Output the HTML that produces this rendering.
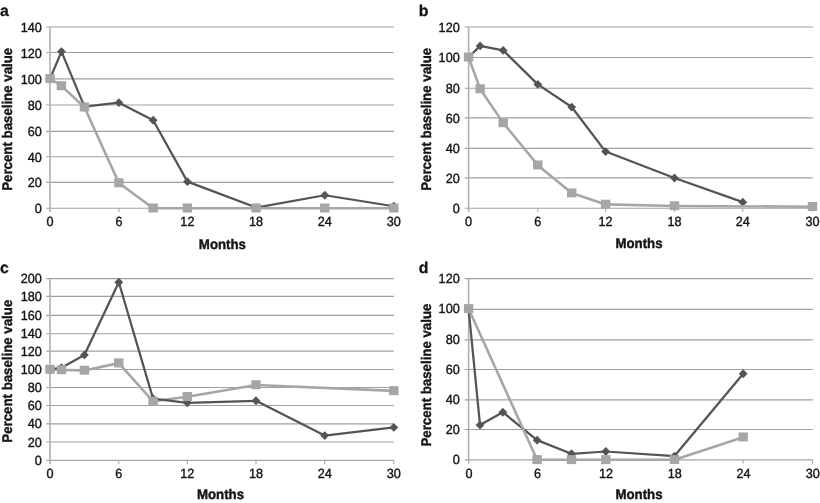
<!DOCTYPE html>
<html lang="en">
<head>
<meta charset="utf-8">
<title>Percent baseline value over months</title>
<style>
html,body{margin:0;padding:0;background:#fff;}
body{width:820px;height:503px;overflow:hidden;}
svg{display:block;}
text{font-family:"Liberation Sans",Arial,Helvetica,sans-serif;fill:#151515;text-rendering:geometricPrecision;}
.t{font-size:13.6px;stroke:#151515;stroke-width:0.4px;}
.b{font-size:13.4px;font-weight:bold;stroke:#151515;stroke-width:0.4px;}
.p{font-size:15.8px;font-weight:bold;stroke:#1a1a1a;stroke-width:0.3px;}
</style>
</head>
<body>
<svg width="820" height="503" viewBox="0 0 820 503">
<rect x="0" y="0" width="820" height="503" fill="#ffffff"/>

<g>
<line x1="46.2" y1="208.2" x2="393.8" y2="208.2" stroke="#a4a4a4" stroke-width="1.15"/>
<text class="t" transform="translate(41.9 213.2) scale(0.93 0.98)" text-anchor="end">0</text>
<line x1="46.2" y1="182.4" x2="393.8" y2="182.4" stroke="#a0a0a0" stroke-width="1.15"/>
<text class="t" transform="translate(41.9 187.4) scale(0.93 0.98)" text-anchor="end">20</text>
<line x1="46.2" y1="156.7" x2="393.8" y2="156.7" stroke="#a0a0a0" stroke-width="1.15"/>
<text class="t" transform="translate(41.9 161.7) scale(0.93 0.98)" text-anchor="end">40</text>
<line x1="46.2" y1="131.3" x2="393.8" y2="131.3" stroke="#a0a0a0" stroke-width="1.15"/>
<text class="t" transform="translate(41.9 136.3) scale(0.93 0.98)" text-anchor="end">60</text>
<line x1="46.2" y1="105" x2="393.8" y2="105" stroke="#a0a0a0" stroke-width="1.15"/>
<text class="t" transform="translate(41.9 110) scale(0.93 0.98)" text-anchor="end">80</text>
<line x1="46.2" y1="78.9" x2="393.8" y2="78.9" stroke="#a0a0a0" stroke-width="1.15"/>
<text class="t" transform="translate(41.9 83.9) scale(0.93 0.98)" text-anchor="end">100</text>
<line x1="46.2" y1="52.5" x2="393.8" y2="52.5" stroke="#a0a0a0" stroke-width="1.15"/>
<text class="t" transform="translate(41.9 57.5) scale(0.93 0.98)" text-anchor="end">120</text>
<line x1="46.2" y1="27" x2="393.8" y2="27" stroke="#a0a0a0" stroke-width="1.15"/>
<text class="t" transform="translate(41.9 32) scale(0.93 0.98)" text-anchor="end">140</text>
<line x1="50" y1="27" x2="50" y2="212" stroke="#b0b0b0" stroke-width="1.6"/>
<text class="t" transform="translate(50 226.3) scale(0.93 0.98)" text-anchor="middle">0</text>
<line x1="118.9" y1="208.2" x2="118.9" y2="212" stroke="#a4a4a4" stroke-width="1"/>
<text class="t" transform="translate(118.9 226.3) scale(0.93 0.98)" text-anchor="middle">6</text>
<line x1="187.4" y1="208.2" x2="187.4" y2="212" stroke="#a4a4a4" stroke-width="1"/>
<text class="t" transform="translate(187.4 226.3) scale(0.93 0.98)" text-anchor="middle">12</text>
<line x1="256.1" y1="208.2" x2="256.1" y2="212" stroke="#a4a4a4" stroke-width="1"/>
<text class="t" transform="translate(256.1 226.3) scale(0.93 0.98)" text-anchor="middle">18</text>
<line x1="324.8" y1="208.2" x2="324.8" y2="212" stroke="#a4a4a4" stroke-width="1"/>
<text class="t" transform="translate(324.8 226.3) scale(0.93 0.98)" text-anchor="middle">24</text>
<line x1="393.8" y1="208.2" x2="393.8" y2="212" stroke="#a4a4a4" stroke-width="1"/>
<text class="t" transform="translate(393.8 226.3) scale(0.93 0.98)" text-anchor="middle">30</text>
<text class="b" transform="translate(222.4 248.5) scale(0.99 1.04)" text-anchor="middle">Months</text>
<text class="b" transform="translate(11.8 119.3) rotate(-90) scale(0.99 1.04)" text-anchor="middle">Percent baseline value</text>
<text class="p" x="0" y="15.6">a</text>
<polyline points="50,78.77 61.48,51.59 84.45,106.6 118.9,102.72 153.15,120.19 187.4,181.67 256.1,207.55 324.8,195.26 393.8,206.26" fill="none" stroke="#545454" stroke-width="2.25" stroke-linejoin="round"/>
<polygon points="50,74.37 54.4,78.77 50,83.17 45.6,78.77" fill="#545454"/>
<polygon points="61.48,47.19 65.88,51.59 61.48,55.99 57.08,51.59" fill="#545454"/>
<polygon points="84.45,102.2 88.85,106.6 84.45,111 80.05,106.6" fill="#545454"/>
<polygon points="118.9,98.32 123.3,102.72 118.9,107.12 114.5,102.72" fill="#545454"/>
<polygon points="153.15,115.79 157.55,120.19 153.15,124.59 148.75,120.19" fill="#545454"/>
<polygon points="187.4,177.27 191.8,181.67 187.4,186.07 183,181.67" fill="#545454"/>
<polygon points="256.1,203.15 260.5,207.55 256.1,211.95 251.7,207.55" fill="#545454"/>
<polygon points="324.8,190.86 329.2,195.26 324.8,199.66 320.4,195.26" fill="#545454"/>
<polygon points="393.8,201.86 398.2,206.26 393.8,210.66 389.4,206.26" fill="#545454"/>
<polyline points="50,78.77 61.48,85.89 84.45,107.25 118.9,182.96 153.15,208.2 187.4,208.2 256.1,208.2 324.8,208.2 393.8,208.2" fill="none" stroke="#a6a6a6" stroke-width="2.6" stroke-linejoin="round"/>
<rect x="45.3" y="74.07" width="9.4" height="9" fill="#a6a6a6"/>
<rect x="56.78" y="81.19" width="9.4" height="9" fill="#a6a6a6"/>
<rect x="79.75" y="102.55" width="9.4" height="9" fill="#a6a6a6"/>
<rect x="114.2" y="178.26" width="9.4" height="9" fill="#a6a6a6"/>
<rect x="148.45" y="203.5" width="9.4" height="9" fill="#a6a6a6"/>
<rect x="182.7" y="203.5" width="9.4" height="9" fill="#a6a6a6"/>
<rect x="251.4" y="203.5" width="9.4" height="9" fill="#a6a6a6"/>
<rect x="320.1" y="203.5" width="9.4" height="9" fill="#a6a6a6"/>
<rect x="389.1" y="203.5" width="9.4" height="9" fill="#a6a6a6"/>
</g>
<g>
<line x1="464.8" y1="208.2" x2="812.9" y2="208.2" stroke="#a4a4a4" stroke-width="1.15"/>
<text class="t" transform="translate(459.7 212.8) scale(0.93 0.98)" text-anchor="end">0</text>
<line x1="464.8" y1="177.9" x2="812.9" y2="177.9" stroke="#a0a0a0" stroke-width="1.15"/>
<text class="t" transform="translate(459.7 182.5) scale(0.93 0.98)" text-anchor="end">20</text>
<line x1="464.8" y1="148.3" x2="812.9" y2="148.3" stroke="#a0a0a0" stroke-width="1.15"/>
<text class="t" transform="translate(459.7 152.9) scale(0.93 0.98)" text-anchor="end">40</text>
<line x1="464.8" y1="117.9" x2="812.9" y2="117.9" stroke="#a0a0a0" stroke-width="1.15"/>
<text class="t" transform="translate(459.7 122.5) scale(0.93 0.98)" text-anchor="end">60</text>
<line x1="464.8" y1="88.2" x2="812.9" y2="88.2" stroke="#a0a0a0" stroke-width="1.15"/>
<text class="t" transform="translate(459.7 92.8) scale(0.93 0.98)" text-anchor="end">80</text>
<line x1="464.8" y1="57.5" x2="812.9" y2="57.5" stroke="#a0a0a0" stroke-width="1.15"/>
<text class="t" transform="translate(459.7 62.1) scale(0.93 0.98)" text-anchor="end">100</text>
<line x1="464.8" y1="27" x2="812.9" y2="27" stroke="#a0a0a0" stroke-width="1.15"/>
<text class="t" transform="translate(459.7 31.6) scale(0.93 0.98)" text-anchor="end">120</text>
<line x1="468.6" y1="27" x2="468.6" y2="212" stroke="#b0b0b0" stroke-width="1.6"/>
<text class="t" transform="translate(468.6 225.7) scale(0.93 0.98)" text-anchor="middle">0</text>
<line x1="537.8" y1="208.2" x2="537.8" y2="212" stroke="#a4a4a4" stroke-width="1"/>
<text class="t" transform="translate(537.8 225.7) scale(0.93 0.98)" text-anchor="middle">6</text>
<line x1="605.6" y1="208.2" x2="605.6" y2="212" stroke="#a4a4a4" stroke-width="1"/>
<text class="t" transform="translate(605.6 225.7) scale(0.93 0.98)" text-anchor="middle">12</text>
<line x1="674.5" y1="208.2" x2="674.5" y2="212" stroke="#a4a4a4" stroke-width="1"/>
<text class="t" transform="translate(674.5 225.7) scale(0.93 0.98)" text-anchor="middle">18</text>
<line x1="742.8" y1="208.2" x2="742.8" y2="212" stroke="#a4a4a4" stroke-width="1"/>
<text class="t" transform="translate(742.8 225.7) scale(0.93 0.98)" text-anchor="middle">24</text>
<line x1="812.5" y1="208.2" x2="812.5" y2="212" stroke="#a4a4a4" stroke-width="1"/>
<text class="t" transform="translate(812.5 225.7) scale(0.93 0.98)" text-anchor="middle">30</text>
<text class="b" transform="translate(638.95 248) scale(0.99 1.04)" text-anchor="middle">Months</text>
<text class="b" transform="translate(431.2 119.3) rotate(-90) scale(0.99 1.04)" text-anchor="middle">Percent baseline value</text>
<text class="p" x="418.8" y="15.6">b</text>
<polyline points="468.6,57.2 480.13,45.88 503.2,50.41 537.8,84.38 571.7,107.03 605.6,151.57 674.5,178 742.8,202.16" fill="none" stroke="#545454" stroke-width="2.25" stroke-linejoin="round"/>
<polygon points="468.6,52.8 473,57.2 468.6,61.6 464.2,57.2" fill="#545454"/>
<polygon points="480.13,41.48 484.53,45.88 480.13,50.27 475.73,45.88" fill="#545454"/>
<polygon points="503.2,46.01 507.6,50.41 503.2,54.8 498.8,50.41" fill="#545454"/>
<polygon points="537.8,79.98 542.2,84.38 537.8,88.78 533.4,84.38" fill="#545454"/>
<polygon points="571.7,102.63 576.1,107.03 571.7,111.43 567.3,107.03" fill="#545454"/>
<polygon points="605.6,147.17 610,151.57 605.6,155.97 601.2,151.57" fill="#545454"/>
<polygon points="674.5,173.6 678.9,178 674.5,182.4 670.1,178" fill="#545454"/>
<polygon points="742.8,197.76 747.2,202.16 742.8,206.56 738.4,202.16" fill="#545454"/>
<polyline points="468.6,57.2 480.13,88.91 503.2,122.88 537.8,165.16 571.7,193.1 605.6,204.42 674.5,205.94 812.5,206.69" fill="none" stroke="#a6a6a6" stroke-width="2.6" stroke-linejoin="round"/>
<rect x="463.9" y="52.5" width="9.4" height="9" fill="#a6a6a6"/>
<rect x="475.43" y="84.21" width="9.4" height="9" fill="#a6a6a6"/>
<rect x="498.5" y="118.18" width="9.4" height="9" fill="#a6a6a6"/>
<rect x="533.1" y="160.47" width="9.4" height="9" fill="#a6a6a6"/>
<rect x="567" y="188.4" width="9.4" height="9" fill="#a6a6a6"/>
<rect x="600.9" y="199.72" width="9.4" height="9" fill="#a6a6a6"/>
<rect x="669.8" y="201.24" width="9.4" height="9" fill="#a6a6a6"/>
<rect x="807.8" y="201.99" width="9.4" height="9" fill="#a6a6a6"/>
</g>
<g>
<line x1="46.2" y1="460.4" x2="393.8" y2="460.4" stroke="#a4a4a4" stroke-width="1.15"/>
<text class="t" transform="translate(41.9 464.9) scale(0.93 0.98)" text-anchor="end">0</text>
<line x1="46.2" y1="442" x2="393.8" y2="442" stroke="#a0a0a0" stroke-width="1.15"/>
<text class="t" transform="translate(41.9 446.5) scale(0.93 0.98)" text-anchor="end">20</text>
<line x1="46.2" y1="423.8" x2="393.8" y2="423.8" stroke="#a0a0a0" stroke-width="1.15"/>
<text class="t" transform="translate(41.9 428.3) scale(0.93 0.98)" text-anchor="end">40</text>
<line x1="46.2" y1="405.5" x2="393.8" y2="405.5" stroke="#a0a0a0" stroke-width="1.15"/>
<text class="t" transform="translate(41.9 410) scale(0.93 0.98)" text-anchor="end">60</text>
<line x1="46.2" y1="387.5" x2="393.8" y2="387.5" stroke="#a0a0a0" stroke-width="1.15"/>
<text class="t" transform="translate(41.9 392) scale(0.93 0.98)" text-anchor="end">80</text>
<line x1="46.2" y1="369.5" x2="393.8" y2="369.5" stroke="#a0a0a0" stroke-width="1.15"/>
<text class="t" transform="translate(41.9 374) scale(0.93 0.98)" text-anchor="end">100</text>
<line x1="46.2" y1="351.1" x2="393.8" y2="351.1" stroke="#a0a0a0" stroke-width="1.15"/>
<text class="t" transform="translate(41.9 355.6) scale(0.93 0.98)" text-anchor="end">120</text>
<line x1="46.2" y1="333.7" x2="393.8" y2="333.7" stroke="#a0a0a0" stroke-width="1.15"/>
<text class="t" transform="translate(41.9 338.2) scale(0.93 0.98)" text-anchor="end">140</text>
<line x1="46.2" y1="315.4" x2="393.8" y2="315.4" stroke="#a0a0a0" stroke-width="1.15"/>
<text class="t" transform="translate(41.9 319.9) scale(0.93 0.98)" text-anchor="end">160</text>
<line x1="46.2" y1="296.3" x2="393.8" y2="296.3" stroke="#a0a0a0" stroke-width="1.15"/>
<text class="t" transform="translate(41.9 300.8) scale(0.93 0.98)" text-anchor="end">180</text>
<line x1="46.2" y1="278.6" x2="393.8" y2="278.6" stroke="#a0a0a0" stroke-width="1.15"/>
<text class="t" transform="translate(41.9 283.1) scale(0.93 0.98)" text-anchor="end">200</text>
<line x1="50" y1="278.6" x2="50" y2="464.2" stroke="#b0b0b0" stroke-width="1.6"/>
<text class="t" transform="translate(50 477.95) scale(0.93 0.98)" text-anchor="middle">0</text>
<line x1="118.8" y1="460.4" x2="118.8" y2="464.2" stroke="#a4a4a4" stroke-width="1"/>
<text class="t" transform="translate(118.8 477.95) scale(0.93 0.98)" text-anchor="middle">6</text>
<line x1="187.3" y1="460.4" x2="187.3" y2="464.2" stroke="#a4a4a4" stroke-width="1"/>
<text class="t" transform="translate(187.3 477.95) scale(0.93 0.98)" text-anchor="middle">12</text>
<line x1="256" y1="460.4" x2="256" y2="464.2" stroke="#a4a4a4" stroke-width="1"/>
<text class="t" transform="translate(256 477.95) scale(0.93 0.98)" text-anchor="middle">18</text>
<line x1="324.7" y1="460.4" x2="324.7" y2="464.2" stroke="#a4a4a4" stroke-width="1"/>
<text class="t" transform="translate(324.7 477.95) scale(0.93 0.98)" text-anchor="middle">24</text>
<line x1="393.8" y1="460.4" x2="393.8" y2="464.2" stroke="#a4a4a4" stroke-width="1"/>
<text class="t" transform="translate(393.8 477.95) scale(0.93 0.98)" text-anchor="middle">30</text>
<text class="b" transform="translate(220.5 499.4) scale(0.99 1.04)" text-anchor="middle">Months</text>
<text class="b" transform="translate(11.8 371.2) rotate(-90) scale(0.99 1.04)" text-anchor="middle">Percent baseline value</text>
<text class="p" x="0" y="272.5">c</text>
<polyline points="50,369.5 61.47,369.95 84.4,370.41 118.8,363.14 153.05,401.31 187.3,396.77 256,384.95 393.8,390.86" fill="none" stroke="#a6a6a6" stroke-width="2.6" stroke-linejoin="round"/>
<polyline points="50,369.5 61.47,367.68 84.4,354.96 118.8,282.24 153.05,398.59 187.3,402.86 256,400.77 324.7,435.58 393.8,427.4" fill="none" stroke="#545454" stroke-width="2.25" stroke-linejoin="round"/>
<polygon points="50,365.1 54.4,369.5 50,373.9 45.6,369.5" fill="#545454"/>
<polygon points="61.47,363.28 65.87,367.68 61.47,372.08 57.07,367.68" fill="#545454"/>
<polygon points="84.4,350.56 88.8,354.96 84.4,359.36 80,354.96" fill="#545454"/>
<polygon points="118.8,277.84 123.2,282.24 118.8,286.64 114.4,282.24" fill="#545454"/>
<polygon points="153.05,394.19 157.45,398.59 153.05,402.99 148.65,398.59" fill="#545454"/>
<polygon points="187.3,398.46 191.7,402.86 187.3,407.26 182.9,402.86" fill="#545454"/>
<polygon points="256,396.37 260.4,400.77 256,405.17 251.6,400.77" fill="#545454"/>
<polygon points="324.7,431.18 329.1,435.58 324.7,439.98 320.3,435.58" fill="#545454"/>
<polygon points="393.8,423 398.2,427.4 393.8,431.8 389.4,427.4" fill="#545454"/>
<rect x="45.3" y="364.8" width="9.4" height="9" fill="#a6a6a6"/>
<rect x="56.77" y="365.25" width="9.4" height="9" fill="#a6a6a6"/>
<rect x="79.7" y="365.71" width="9.4" height="9" fill="#a6a6a6"/>
<rect x="114.1" y="358.44" width="9.4" height="9" fill="#a6a6a6"/>
<rect x="148.35" y="396.62" width="9.4" height="9" fill="#a6a6a6"/>
<rect x="182.6" y="392.07" width="9.4" height="9" fill="#a6a6a6"/>
<rect x="251.3" y="380.25" width="9.4" height="9" fill="#a6a6a6"/>
<rect x="389.1" y="386.16" width="9.4" height="9" fill="#a6a6a6"/>
</g>
<g>
<line x1="464.8" y1="459.8" x2="812.9" y2="459.8" stroke="#a4a4a4" stroke-width="1.15"/>
<text class="t" transform="translate(459.7 463.8) scale(0.93 0.98)" text-anchor="end">0</text>
<line x1="464.8" y1="429.5" x2="812.9" y2="429.5" stroke="#a0a0a0" stroke-width="1.15"/>
<text class="t" transform="translate(459.7 433.5) scale(0.93 0.98)" text-anchor="end">20</text>
<line x1="464.8" y1="399.9" x2="812.9" y2="399.9" stroke="#a0a0a0" stroke-width="1.15"/>
<text class="t" transform="translate(459.7 403.9) scale(0.93 0.98)" text-anchor="end">40</text>
<line x1="464.8" y1="369.5" x2="812.9" y2="369.5" stroke="#a0a0a0" stroke-width="1.15"/>
<text class="t" transform="translate(459.7 373.5) scale(0.93 0.98)" text-anchor="end">60</text>
<line x1="464.8" y1="339.8" x2="812.9" y2="339.8" stroke="#a0a0a0" stroke-width="1.15"/>
<text class="t" transform="translate(459.7 343.8) scale(0.93 0.98)" text-anchor="end">80</text>
<line x1="464.8" y1="309.3" x2="812.9" y2="309.3" stroke="#a0a0a0" stroke-width="1.15"/>
<text class="t" transform="translate(459.7 313.3) scale(0.93 0.98)" text-anchor="end">100</text>
<line x1="464.8" y1="278.6" x2="812.9" y2="278.6" stroke="#a0a0a0" stroke-width="1.15"/>
<text class="t" transform="translate(459.7 282.6) scale(0.93 0.98)" text-anchor="end">120</text>
<line x1="468.6" y1="278.6" x2="468.6" y2="463.6" stroke="#b0b0b0" stroke-width="1.6"/>
<text class="t" transform="translate(468.9 478.2) scale(0.93 0.98)" text-anchor="middle">0</text>
<line x1="537.1" y1="459.8" x2="537.1" y2="463.6" stroke="#a4a4a4" stroke-width="1"/>
<text class="t" transform="translate(537.4 478.2) scale(0.93 0.98)" text-anchor="middle">6</text>
<line x1="605.8" y1="459.8" x2="605.8" y2="463.6" stroke="#a4a4a4" stroke-width="1"/>
<text class="t" transform="translate(606.1 478.2) scale(0.93 0.98)" text-anchor="middle">12</text>
<line x1="674.5" y1="459.8" x2="674.5" y2="463.6" stroke="#a4a4a4" stroke-width="1"/>
<text class="t" transform="translate(674.8 478.2) scale(0.93 0.98)" text-anchor="middle">18</text>
<line x1="743.2" y1="459.8" x2="743.2" y2="463.6" stroke="#a4a4a4" stroke-width="1"/>
<text class="t" transform="translate(743.5 478.2) scale(0.93 0.98)" text-anchor="middle">24</text>
<line x1="812.5" y1="459.8" x2="812.5" y2="463.6" stroke="#a4a4a4" stroke-width="1"/>
<text class="t" transform="translate(812.8 478.2) scale(0.93 0.98)" text-anchor="middle">30</text>
<text class="b" transform="translate(638.95 499.3) scale(0.99 1.04)" text-anchor="middle">Months</text>
<text class="b" transform="translate(431.2 375.1) rotate(-90) scale(0.99 1.04)" text-anchor="middle">Percent baseline value</text>
<text class="p" x="418.8" y="272.5">d</text>
<polyline points="468.6,308.8 480.02,425.07 502.85,412.24 537.1,440.17 571.45,453.76 605.8,451.5 674.5,456.03 743.2,373.73" fill="none" stroke="#545454" stroke-width="2.25" stroke-linejoin="round"/>
<polygon points="468.6,304.4 473,308.8 468.6,313.2 464.2,308.8" fill="#545454"/>
<polygon points="480.02,420.67 484.42,425.07 480.02,429.47 475.62,425.07" fill="#545454"/>
<polygon points="502.85,407.84 507.25,412.24 502.85,416.63 498.45,412.24" fill="#545454"/>
<polygon points="537.1,435.77 541.5,440.17 537.1,444.57 532.7,440.17" fill="#545454"/>
<polygon points="571.45,449.36 575.85,453.76 571.45,458.16 567.05,453.76" fill="#545454"/>
<polygon points="605.8,447.1 610.2,451.5 605.8,455.89 601.4,451.5" fill="#545454"/>
<polygon points="674.5,451.63 678.9,456.03 674.5,460.43 670.1,456.03" fill="#545454"/>
<polygon points="743.2,369.33 747.6,373.73 743.2,378.13 738.8,373.73" fill="#545454"/>
<polyline points="468.6,308.8 537.1,459.8 571.45,459.8 605.8,459.8 674.5,459.8 743.2,437.15" fill="none" stroke="#a6a6a6" stroke-width="2.6" stroke-linejoin="round"/>
<rect x="463.9" y="304.1" width="9.4" height="9" fill="#a6a6a6"/>
<rect x="532.4" y="455.1" width="9.4" height="9" fill="#a6a6a6"/>
<rect x="566.75" y="455.1" width="9.4" height="9" fill="#a6a6a6"/>
<rect x="601.1" y="455.1" width="9.4" height="9" fill="#a6a6a6"/>
<rect x="669.8" y="455.1" width="9.4" height="9" fill="#a6a6a6"/>
<rect x="738.5" y="432.45" width="9.4" height="9" fill="#a6a6a6"/>
</g>
</svg>
</body>
</html>
